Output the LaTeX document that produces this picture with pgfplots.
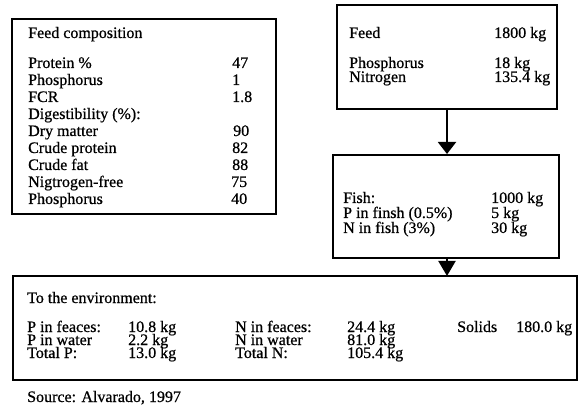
\documentclass[border=0pt]{standalone}
\usepackage{pgfplots}
\pgfplotsset{compat=1.18}
\usepackage{fontspec}
\setmainfont{Liberation Serif}[BoldFont=Liberation Serif, BoldFeatures={FakeBold=0.7}]
\usetikzlibrary{arrows.meta}
\newcommand{\T}[3]{\node[anchor=base west, inner sep=0pt] at (axis cs:#1,#2) {\bfseries #3};}
\begin{document}
\fontsize{16}{17}\selectfont
\begin{tikzpicture}
\begin{axis}[width=584pt, height=406pt, scale only axis,
  xmin=0, xmax=584, ymin=0, ymax=406, y dir=reverse,
  hide axis, clip=false]
\draw[draw=none] (axis cs:0,0) rectangle (axis cs:584,406);
% boxes
\draw[line width=2pt] (axis cs:12,19) rectangle (axis cs:276,214);
\draw[line width=2pt] (axis cs:337,5) rectangle (axis cs:557,109);
\draw[line width=2pt] (axis cs:333,155) rectangle (axis cs:559,258);
\draw[line width=2pt] (axis cs:13,276) rectangle (axis cs:577,380);
% arrows
\draw[line width=2pt, -{Triangle[width=18pt,length=12pt]}] (axis cs:447,109) -- (axis cs:447,154);
\draw[line width=2pt, -{Triangle[width=17pt,length=15pt]}] (axis cs:447,258) -- (axis cs:447,276);
% box 1
\T{28}{38}{Feed composition}
\T{28}{68}{Protein \%}      \T{232}{68}{47}
\T{28}{85}{Phosphorus}      \T{232}{85}{1}
\T{28}{102}{FCR}            \T{232}{102}{1.8}
\T{28}{119}{Digestibility (\%):}
\T{28}{136}{Dry matter}     \T{233}{136}{90}
\T{28}{153}{Crude protein}  \T{232}{153}{82}
\T{28}{170}{Crude fat}      \T{232}{170}{88}
\T{28}{187}{Nigtrogen-free} \T{231}{187}{75}
\T{28}{204}{Phosphorus}     \T{231}{204}{40}
% box 2
\T{349}{38}{Feed}           \T{494}{38}{1800 kg}
\T{349}{68}{Phosphorus}     \T{494}{68}{18 kg}
\T{349}{82}{Nitrogen}       \T{494}{82}{135.4 kg}
% box 3
\T{343}{203}{Fish:}              \T{491}{203}{1000 kg}
\T{343}{218}{P in finsh (0.5\%)} \T{491}{218}{5 kg}
\T{343}{233}{N in fish (3\%)}    \T{491}{233}{30 kg}
% bottom box
\T{27}{303}{To the environment:}
\T{27}{332}{P in feaces:} \T{128}{332}{10.8 kg}
\T{27}{345}{P in water}   \T{128}{345}{2.2 kg}
\T{27}{358}{Total P:}     \T{128}{358}{13.0 kg}
\T{235}{332}{N in feaces:} \T{347}{332}{24.4 kg}
\T{235}{345}{N in water}   \T{347}{345}{81.0 kg}
\T{235}{358}{Total N:}     \T{347}{358}{105.4 kg}
\T{457}{332}{Solids} \T{516}{332}{180.0 kg}
% source
\T{27}{402}{Source: Alvarado, 1997}
\end{axis}
\end{tikzpicture}
\end{document}
